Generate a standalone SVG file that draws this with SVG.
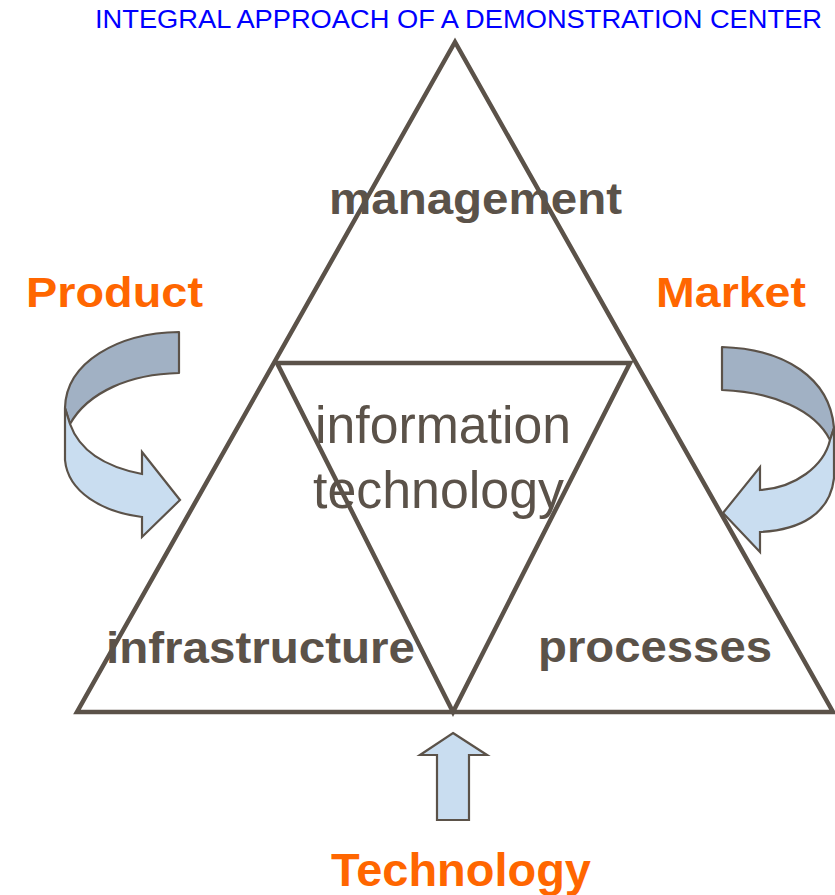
<svg xmlns="http://www.w3.org/2000/svg" width="835" height="895" viewBox="0 0 835 895">
  <style>
    .frame { fill: none; stroke: #5B5249; stroke-width: 4.5; stroke-linejoin: miter; }
    .back { fill: #A1B1C4; stroke: #5B5249; stroke-width: 2.2; stroke-linejoin: round; }
    .front { fill: #C9DDF0; stroke: #5B5249; stroke-width: 2.2; stroke-linejoin: miter; }
    .label { font-family: "Liberation Sans", Arial, sans-serif; fill: #5B5249; }
    .bold { font-weight: bold; }
    .force { font-family: "Liberation Sans", Arial, sans-serif; font-weight: bold; fill: #FF6600; }
    .title { font-family: "Liberation Sans", Arial, sans-serif; fill: #0000FF; }
  </style>

  <rect width="835" height="895" fill="#FFFFFF"/>

  <text class="title" x="95" y="28" font-size="25" textLength="727" lengthAdjust="spacingAndGlyphs">INTEGRAL APPROACH OF A DEMONSTRATION CENTER</text>

  <!-- outer triangle and inverted inner triangle -->
  <g id="triangle">
    <polygon class="frame" points="455,42 77,712 833,712"/>
    <polygon class="frame" points="277,363 630,363 453,712"/>
  </g>

  <g id="management">
    <text class="label bold" x="329" y="214" font-size="44" textLength="293" lengthAdjust="spacingAndGlyphs">management</text>
  </g>
  <g id="information-technology">
    <text class="label" x="315" y="443" font-size="51" textLength="256" lengthAdjust="spacingAndGlyphs">information</text>
    <text class="label" x="313" y="508" font-size="51" textLength="251" lengthAdjust="spacingAndGlyphs">technology</text>
  </g>
  <g id="infrastructure">
    <text class="label bold" x="106" y="663" font-size="44" textLength="309" lengthAdjust="spacingAndGlyphs">infrastructure</text>
  </g>
  <g id="processes">
    <text class="label bold" x="538" y="662" font-size="44" textLength="234" lengthAdjust="spacingAndGlyphs">processes</text>
  </g>

  <g id="product">
    <text class="force" x="26" y="307" font-size="42" textLength="177" lengthAdjust="spacingAndGlyphs">Product</text>
  </g>
  <g id="market">
    <text class="force" x="656" y="307" font-size="42" textLength="150" lengthAdjust="spacingAndGlyphs">Market</text>
  </g>
  <g id="technology">
    <text class="force" x="331" y="886" font-size="46" textLength="260" lengthAdjust="spacingAndGlyphs">Technology</text>
  </g>

  <g id="connectors">
    <!-- Product: ribbon arrow curling down into the left side -->
    <path class="back" d="M179,332 L179,373 C130,374 88,392 70,424 L65,408 C66,362 118,333 179,332 Z"/>
    <path class="front" d="M65,408 L65,460 C68,492 102,512 142,517 L142,537 L180,500 L142,452 L142,474 C106,467 80,452 70,424 Z"/>

    <!-- Market: ribbon arrow curling down into the right side -->
    <path class="back" d="M722,347 L722,390 C773,392 815,410 830,440 L834,428 C830,378 785,349 722,347 Z"/>
    <path class="front" d="M834,428 L834,478 C830,514 800,530 760,532 L760,552 L723,513 L760,467 L760,490 C795,488 824,466 830,440 Z"/>

    <!-- Technology: straight arrow pointing up at the base -->
    <polygon class="front" points="453,733 487,755 469,755 469,820 437,820 437,755 420,755"/>
  </g>
</svg>
